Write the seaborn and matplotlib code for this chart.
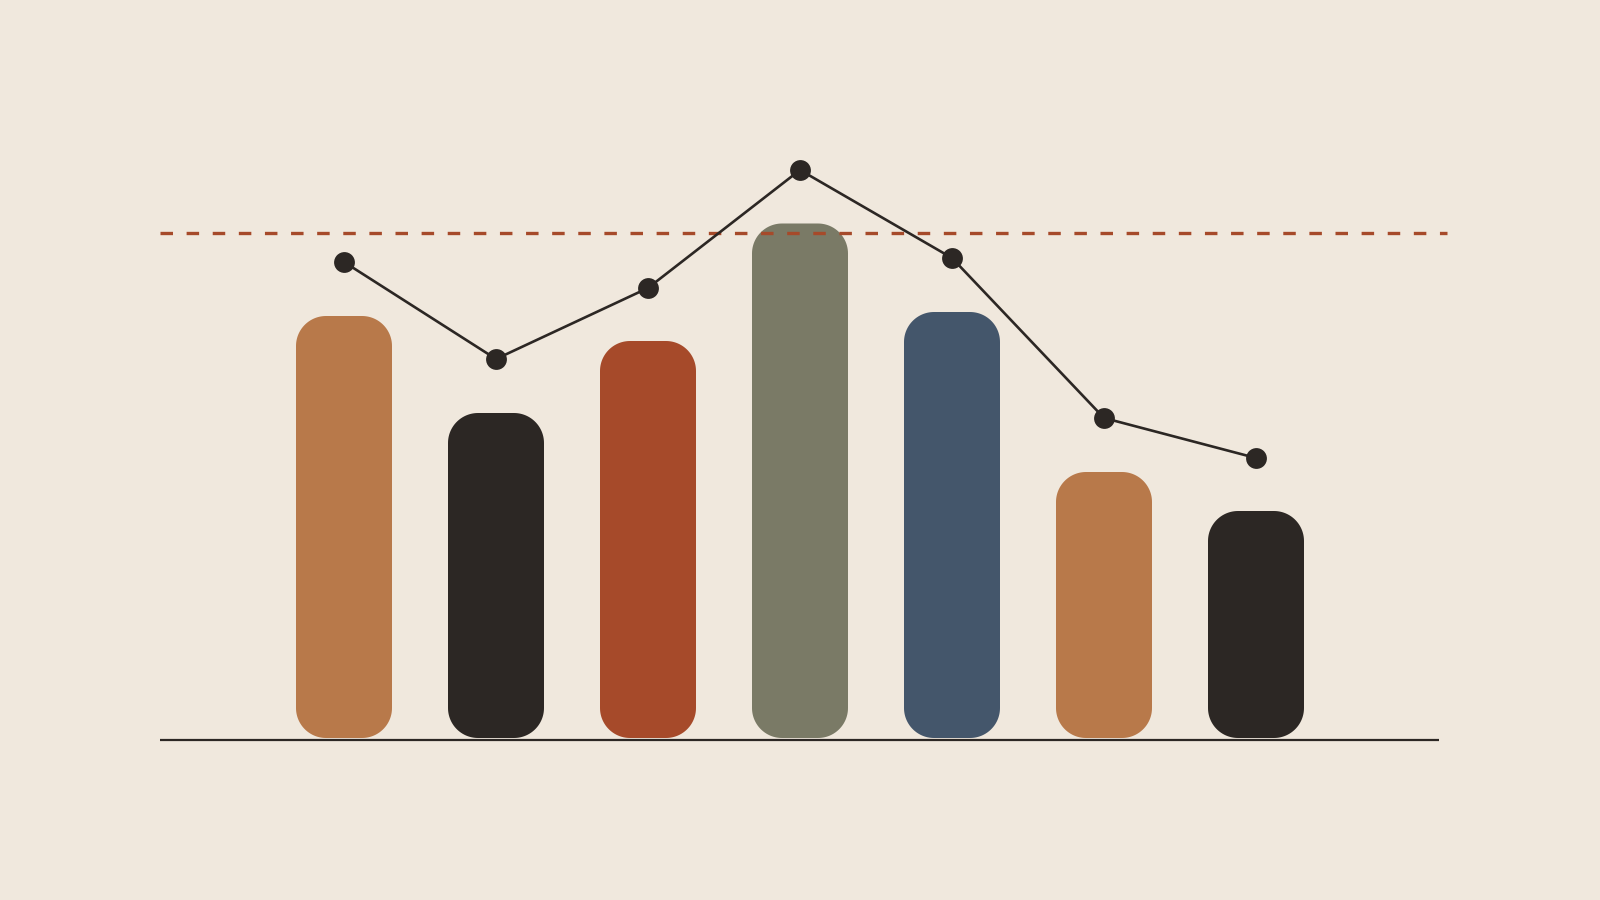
import matplotlib
matplotlib.use("Agg")
import matplotlib.pyplot as plt
from matplotlib.patches import Polygon
import numpy as np
import seaborn as sns
import pandas as pd

# ---- data ----
categories = ["A", "B", "C", "D", "E", "F", "G"]
bar_values = [84.4, 65.0, 79.4, 102.9, 85.2, 53.2, 45.4]
line_values = [95.2, 75.8, 90.0, 113.6, 96.0, 64.0, 56.0]
reference_value = 101.0
bar_colors = ["#B8794A", "#2C2724", "#A64A2A", "#7A7A66", "#44566B", "#B8794A", "#2C2724"]

BG = "#F0E8DD"
DARK = "#2C2724"
RUST = "#A64A2A"

sns.set_theme(style="white")
plt.rcParams["lines.scale_dashes"] = False

fig = plt.figure(figsize=(16, 9), dpi=100, facecolor=BG)
ax = fig.add_axes([0, 0, 1, 1])
ax.set_facecolor(BG)

df = pd.DataFrame({"cat": categories, "val": bar_values})
sns.barplot(data=df, x="cat", y="val", hue="cat", palette=bar_colors,
            order=categories, hue_order=categories, legend=False,
            width=0.6316, ax=ax, saturation=1)

# pixel geometry: 152 px per category, 5 px per y unit
px_x = 1 / 152
px_y = 1 / 5
ax.set_xlim((0 - 344) * px_x, (1600 - 344) * px_x)
ax.set_ylim(-(900 - 738) * px_y, 738 * px_y)


def rounded_rect(x0, y0, w, h, rx, ry, n=24):
    pts = []
    corners = [
        (x0 + w - rx, y0 + h - ry, 0, 90),
        (x0 + rx, y0 + h - ry, 90, 180),
        (x0 + rx, y0 + ry, 180, 270),
        (x0 + w - rx, y0 + ry, 270, 360),
    ]
    for cx, cy, a0, a1 in corners:
        t = np.radians(np.linspace(a0, a1, n))
        pts.extend(zip(cx + rx * np.cos(t), cy + ry * np.sin(t)))
    return np.array(pts)


# replace bars with rounded ones
r_px = 30
bars = list(ax.patches)
for p in bars:
    x0, w, h = p.get_x(), p.get_width(), p.get_height()
    fc = p.get_facecolor()
    p.remove()
    poly = Polygon(rounded_rect(x0, 0, w, h, r_px * px_x, r_px * px_y),
                   closed=True, facecolor=fc, edgecolor="none", zorder=2)
    ax.add_patch(poly)

# baseline
ax.plot([(160 - 344) * px_x, (1439 - 344) * px_x], [-0.4, -0.4],
        color=DARK, lw=1.6, zorder=3, solid_capstyle="butt")

# dashed reference line
ax.plot([(160 - 344) * px_x, (1447 - 344) * px_x], [reference_value, reference_value],
        color=RUST, lw=2.4, dashes=(9.0, 9.8), zorder=3, dash_capstyle="butt")

# line with markers
xpos = list(range(len(categories)))
sns.lineplot(x=xpos, y=line_values, sort=False, color=DARK, lw=1.9,
             marker="o", markersize=15, markeredgewidth=0,
             markerfacecolor=DARK, ax=ax, zorder=4)

ax.set_axis_off()
fig.savefig("out.png", dpi=100, facecolor=BG)
